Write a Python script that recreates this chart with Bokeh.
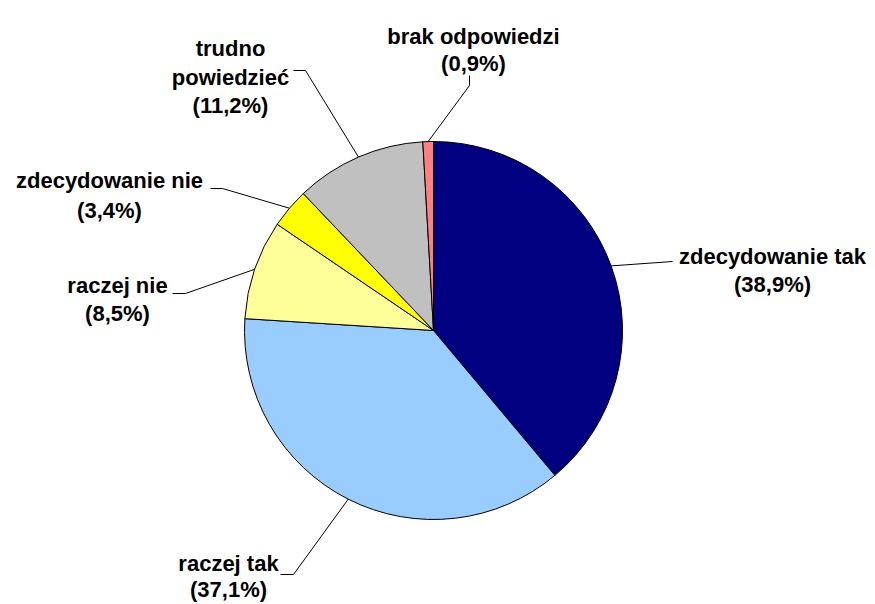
import numpy as np
from bokeh.plotting import figure
from bokeh.models import Range1d
from bokeh.core.properties import value
from bokeh.embed import file_html
from bokeh.resources import INLINE

# ---- data ----
categories = ["zdecydowanie tak", "raczej tak", "raczej nie",
              "zdecydowanie nie", "trudno powiedzieć", "brak odpowiedzi"]
label_lines = [["zdecydowanie tak"], ["raczej tak"], ["raczej nie"],
               ["zdecydowanie nie"], ["trudno", "powiedzieć"], ["brak odpowiedzi"]]
shares = [38.9, 37.1, 8.5, 3.4, 11.2, 0.9]
colors = ["#000080", "#99CCFF", "#FFFF99", "#FFFF00", "#C0C0C0", "#FF8080"]

W, H = 875, 604
CX, CY, R = 433, 330, 189   # pie centre/radius in pixel coords (y down)

def Y(y):
    return H - y

p = figure(width=W, height=H, output_backend="svg", toolbar_location=None,
           x_range=Range1d(0, W), y_range=Range1d(0, H),
           x_axis_location=None, y_axis_location=None, min_border=0)
p.grid.visible = False
p.outline_line_color = None
p.background_fill_color = "white"
p.border_fill_color = "white"

vals = np.array(shares, dtype=float)
frac = vals / vals.sum()
cum = np.concatenate([[0], np.cumsum(frac)])
start = np.pi / 2 - cum[:-1] * 2 * np.pi
end = np.pi / 2 - cum[1:] * 2 * np.pi
mid = (start + end) / 2

p.wedge(x=CX, y=Y(CY), radius=R, start_angle=list(start), end_angle=list(end),
        direction="clock", fill_color=colors, line_color="black", line_width=1)

# ---- label layout (positions only) ----
text_cx = [772, 228, 117, 109, 230, 473]
first_base = [256, 563, 285, 180, 48, 36]
line_gap = [28, 26, 28, 30, 28.5, 27]
leader_pts = [
    [(672, 261)],
    [(293, 574), (280, 574)],
    [(185, 293), (172, 293)],
    [(222, 188), (210, 188)],
    [(305, 70), (293, 70)],
    [(469, 85), (469, 75)],
]

for i in range(len(categories)):
    ex = CX + R * np.cos(mid[i])
    ey = CY - R * np.sin(mid[i])
    xs = [ex] + [pt[0] for pt in leader_pts[i]]
    ys = [Y(ey)] + [Y(pt[1]) for pt in leader_pts[i]]
    p.line(xs, ys, line_color="black", line_width=1)

    pct = "(" + f"{shares[i]:.1f}".replace(".", ",") + "%)"
    lines = label_lines[i] + [pct]
    for k, t in enumerate(lines):
        p.text(x=[text_cx[i]], y=[Y(first_base[i] + k * line_gap[i])], text=[t],
               text_align="center", text_baseline="alphabetic",
               text_font=value("Liberation Sans"), text_font_style="bold",
               text_font_size="22px", text_color="black")

open("out.html", "w").write(file_html(p, INLINE))
